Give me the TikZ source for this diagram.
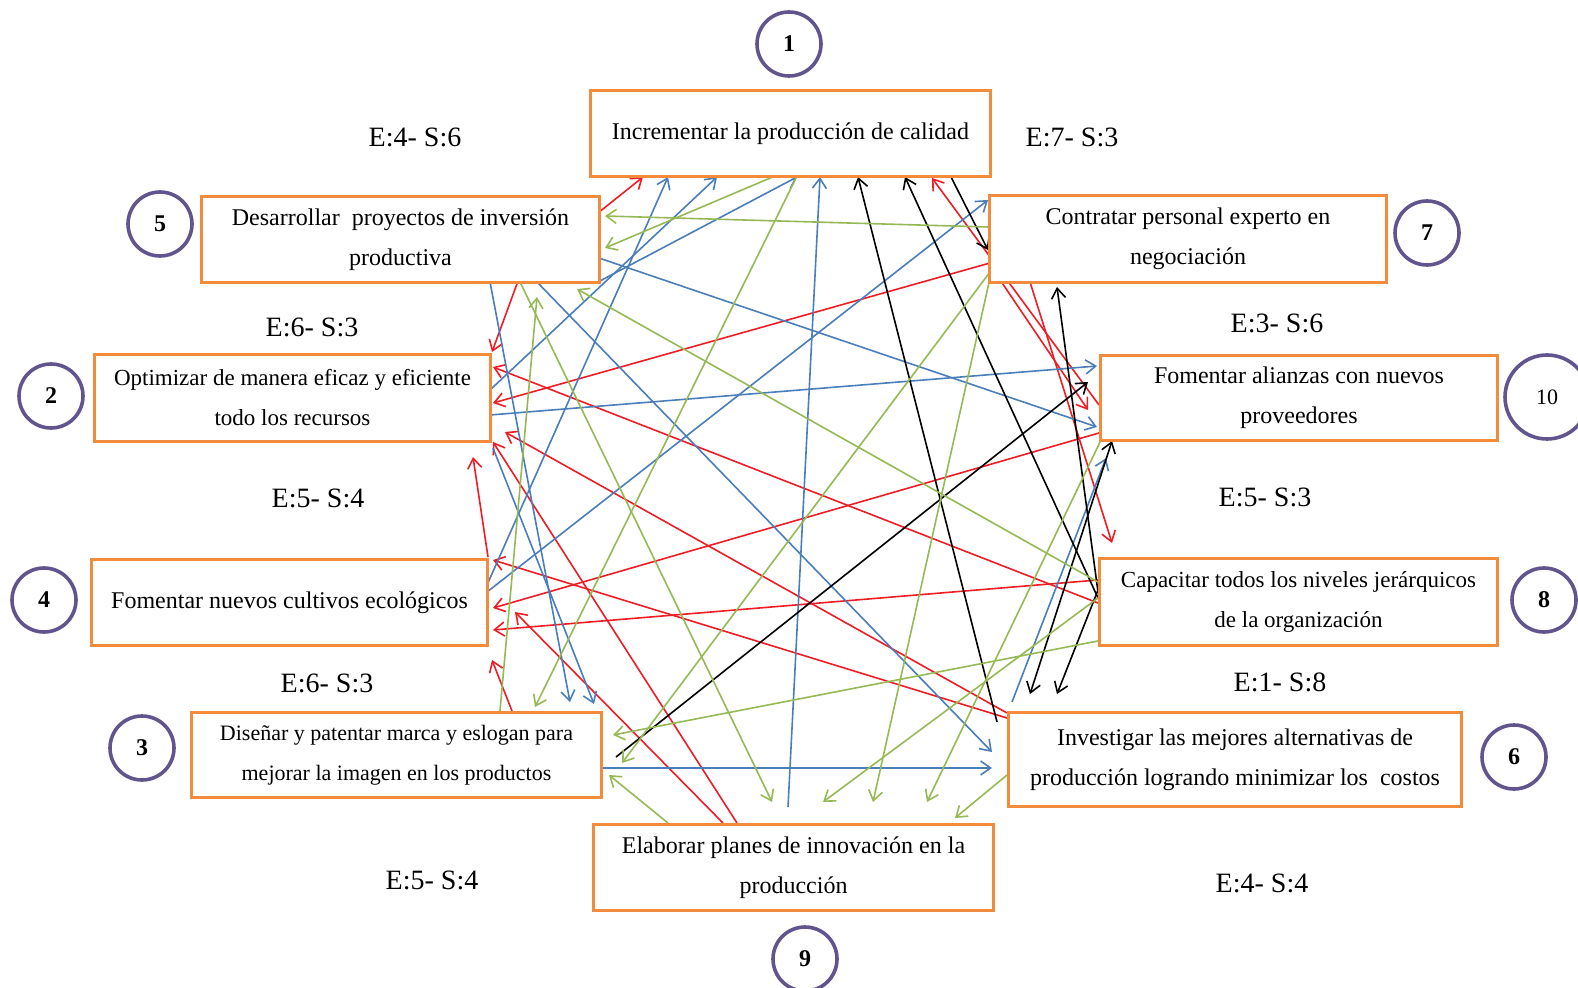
\documentclass[tikz,border=0pt]{standalone}
\usepackage{fontspec}
\setmainfont{Liberation Serif}
\usetikzlibrary{arrows.meta,calc,backgrounds}
\definecolor{boxc}{RGB}{242,140,60}
\definecolor{circc}{RGB}{98,84,140}
\definecolor{lred}{RGB}{238,28,36}
\definecolor{lblue}{RGB}{74,126,187}
\definecolor{lgreen}{RGB}{150,185,85}
\newcommand{\nrel}[3]{($(#1.north west)+(#2,#3)$)}
\begin{document}
\begin{tikzpicture}[x=0.5pt,y=-0.5pt,
  box/.style 2 args={draw=boxc, line width=1.5pt, fill=white, anchor=north west,
    inner sep=0pt, align=center, minimum width=#1*0.5pt, minimum height=#2*0.5pt,
    font=\fontsize{12}{20}\selectfont},
  numc/.style={circle, draw=circc, line width=1.8pt, fill=white, minimum size=32pt,
    inner sep=0pt, font=\fontsize{12}{12}\selectfont\bfseries},
  lab/.style={inner sep=1pt, font=\fontsize{14}{14}\selectfont},
  conn/.style={line width=0.8pt, -{Straight Barb[length=5pt,width=7pt]}},
  er/.style={conn, draw=lred},
  eb/.style={conn, draw=lblue},
  eg/.style={conn, draw=lgreen},
  ek/.style={conn, draw=black}
]
\useasboundingbox (0,0) rectangle (1578,988);

% boxes
\node[box={400}{86}] (B1) at (589,89) {Incrementar la producción de calidad};
\node[box={398}{86}] (B5) at (200,195) {Desarrollar\ \ proyectos de inversión\\productiva};
\node[box={397}{87}] (B7) at (988,194) {Contratar personal experto en\\negociación};
\node[box={396}{87}, font=\fontsize{11.5}{20}\selectfont] (B2) at (93,353) {Optimizar de manera eficaz y eficiente\\todo los recursos};
\node[box={397}{85}] (B10) at (1099,354) {Fomentar alianzas con nuevos\\proveedores};
\node[box={396}{86}] (B4) at (90,558) {Fomentar nuevos cultivos ecológicos};
\node[box={398}{87}, font=\fontsize{11.5}{20}\selectfont] (B8) at (1098,557) {Capacitar todos los niveles jerárquicos\\de la organización};
\node[box={410}{85}, font=\fontsize{11}{20}\selectfont] (B3) at (190,711) {Diseñar y patentar marca y eslogan para\\mejorar la imagen en los productos};
\node[box={453}{94}] (B6) at (1007,711) {Investigar las mejores alternativas de\\producción logrando minimizar los\ \ costos};
\node[box={400}{86}] (B9) at (592,823) {Elaborar planes de innovación en la\\producción};

% numbered circles
\node[numc] (c1) at (789,44) {1};
\node[numc] (c5) at (160,224) {5};
\node[numc] (c7) at (1427,233) {7};
\node[numc] (c2) at (51,396) {2};
\node[numc, minimum size=42pt, font=\fontsize{11}{11}\selectfont] (c10) at (1547,397) {10};
\node[numc] (c4) at (44,600) {4};
\node[numc] (c8) at (1544,600) {8};
\node[numc] (c3) at (142,748) {3};
\node[numc] (c6) at (1514,757) {6};
\node[numc] (c9) at (805,959) {9};

% E/S labels
\node[lab] (L5) at (415,137) {E:4- S:6};
\node[lab] (L1) at (1072,137) {E:7- S:3};
\node[lab] (L2) at (312,327) {E:6- S:3};
\node[lab] (L7) at (1277,323) {E:3- S:6};
\node[lab] (L4) at (318,498) {E:5- S:4};
\node[lab] (L10) at (1265,497) {E:5- S:3};
\node[lab] (L3) at (327,683) {E:6- S:3};
\node[lab] (L8) at (1280,682) {E:1- S:8};
\node[lab] (L9) at (432,880) {E:5- S:4};
\node[lab] (L6) at (1262,883) {E:4- S:4};

\begin{scope}[on background layer]
% red
\draw[er] \nrel{B5}{398}{18} -- \nrel{B1}{54}{88};
\draw[er] \nrel{B5}{318}{86} -- \nrel{B2}{399}{-1};
\draw[er] \nrel{B7}{2}{69} -- \nrel{B2}{400}{50};
\draw[er] \nrel{B8}{0}{46} -- \nrel{B2}{400}{14};
\draw[er] \nrel{B6}{0}{2} -- \nrel{B2}{412}{79};
\draw[er] \nrel{B9}{145}{0} -- \nrel{B2}{400}{89};
\draw[er] \nrel{B4}{398}{-1} -- \nrel{B2}{380}{104};
\draw[er] \nrel{B6}{0}{7} -- \nrel{B4}{403}{2};
\draw[er] \nrel{B10}{0}{79} -- \nrel{B4}{403}{50};
\draw[er] \nrel{B8}{0}{23} -- \nrel{B4}{403}{72};
\draw[er] \nrel{B9}{131}{0} -- \nrel{B4}{425}{54};
\draw[er] \nrel{B3}{322}{0} -- \nrel{B4}{402}{102};
\draw[er] \nrel{B10}{0}{51} -- \nrel{B1}{343}{89};
\draw[er] \nrel{B7}{4}{74} -- \nrel{B10}{-11}{56};
\draw[er] \nrel{B7}{42}{88} -- \nrel{B8}{14}{-14};
% blue
\draw[eb] \nrel{B4}{397}{27} -- \nrel{B1}{79}{88};
\draw[eb] \nrel{B2}{397}{37} -- \nrel{B1}{128}{88};
\draw[eb] \nrel{B5}{398}{87} -- \nrel{B1}{208}{88};
\draw[eb] \nrel{B9}{196}{-16} -- \nrel{B1}{231}{88};
\draw[eb] \nrel{B4}{397}{34} -- \nrel{B7}{0}{6};
\draw[eb] \nrel{B2}{397}{62} -- \nrel{B10}{-2}{12};
\draw[eb] \nrel{B5}{399}{63} -- \nrel{B10}{-2}{73};
\draw[eb] \nrel{B5}{337}{87} -- \nrel{B6}{-15}{41};
\draw[eb] \nrel{B5}{290}{87} -- \nrel{B3}{380}{-9};
\draw[eb] \nrel{B2}{400}{95} -- \nrel{B3}{404}{-7};
\draw[eb] \nrel{B3}{412}{57} -- \nrel{B6}{-15}{57};
\draw[eb] \nrel{B6}{5}{-9} -- \nrel{B10}{7}{104};
% black
\draw[ek] \nrel{B1}{361}{86} -- \nrel{B7}{0}{56};
\draw[ek] \nrel{B6}{-10}{11} -- \nrel{B1}{269}{88};
\draw[ek] \nrel{B8}{0}{41} -- \nrel{B1}{316}{88};
\draw[ek] \nrel{B8}{0}{35} -- \nrel{B7}{69}{93};
\draw[ek] \nrel{B8}{2}{28} -- \nrel{B6}{50}{-17};
\draw[ek, {Straight Barb[length=5pt,width=7pt]}-{Straight Barb[length=5pt,width=7pt]}] \nrel{B10}{13}{87} -- \nrel{B6}{23}{-17};
\draw[ek] \nrel{B3}{426}{46} -- \nrel{B10}{-11}{28};
% green
\draw[eg] \nrel{B7}{0}{33} -- \nrel{B5}{405}{21};
\draw[eg] \nrel{B1}{186}{87} -- \nrel{B5}{405}{53};
\draw[eg] \nrel{B1}{208}{87} -- \nrel{B3}{345}{-4};
\draw[eg] \nrel{B3}{310}{0} -- \nrel{B5}{337}{102};
\draw[eg] \nrel{B8}{0}{25} -- \nrel{B5}{377}{94};
\draw[eg] \nrel{B8}{0}{84} -- \nrel{B3}{423}{24};
\draw[eg] \nrel{B9}{76}{0} -- \nrel{B3}{419}{64};
\draw[eg] \nrel{B7}{2}{78} -- \nrel{B3}{432}{52};
\draw[eg] \nrel{B5}{320}{87} -- \nrel{B9}{180}{-21};
\draw[eg] \nrel{B8}{0}{41} -- \nrel{B9}{231}{-21};
\draw[eg] \nrel{B7}{2}{84} -- \nrel{B9}{281}{-21};
\draw[eg] \nrel{B10}{2}{86} -- \nrel{B9}{335}{-21};
\draw[eg] \nrel{B6}{0}{64} -- \nrel{B9}{363}{-5};
\end{scope}
\end{tikzpicture}
\end{document}
